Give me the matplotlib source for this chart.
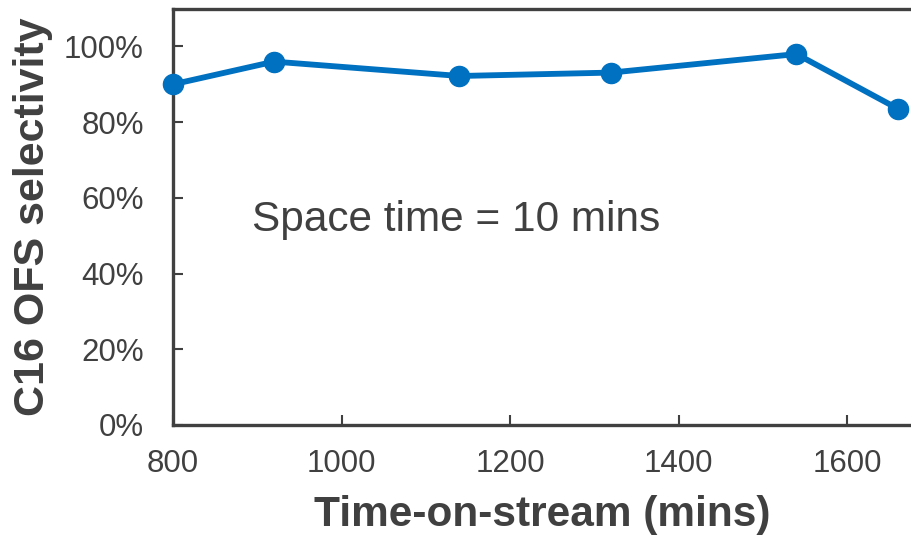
import matplotlib
matplotlib.use("Agg")
import matplotlib.pyplot as plt
from matplotlib.ticker import PercentFormatter

# data
time_min = [800, 920, 1140, 1320, 1540, 1660]
selectivity = [0.900, 0.960, 0.922, 0.931, 0.980, 0.836]
x_ticks = [800, 1000, 1200, 1400, 1600]
y_ticks = [0.0, 0.2, 0.4, 0.6, 0.8, 1.0]

GREY = "#404040"
BLUE = "#0070C0"

plt.rcParams["font.family"] = ["Liberation Sans", "DejaVu Sans"]

fig = plt.figure(figsize=(9.11, 5.36), dpi=100)
ax = fig.add_axes([173 / 911, (536 - 425) / 536, (911 - 173) / 911, (425 - 9) / 536])

ax.plot(time_min, selectivity, "-o", color=BLUE, lw=4.2, ms=14.5, clip_on=False, zorder=3)

ax.set_xlim(800, 800 + (911 - 173) / 0.8425)
ax.set_ylim(0, 1.099)
ax.set_xticks(x_ticks)
ax.set_yticks(y_ticks)
ax.yaxis.set_major_formatter(PercentFormatter(1.0, decimals=0))

for side in ["left", "bottom", "top"]:
    ax.spines[side].set_color(GREY)
    ax.spines[side].set_linewidth(2.4)
ax.spines["right"].set_visible(False)
ax.tick_params(direction="in", length=7, width=1.5, color=GREY,
               labelcolor=GREY, labelsize=22.5)
ax.tick_params(axis="y", pad=21)
ax.tick_params(axis="x", pad=17)

ax.set_xlabel("Time-on-stream (mins)", fontsize=30.5, fontweight="bold", color=GREY, labelpad=12)
ax.set_ylabel("C16 OFS selectivity", fontsize=31, fontweight="bold", color=GREY, labelpad=8)

ax.text(894, 0.542, "Space time = 10 mins", fontsize=30.5, color=GREY, va="center")

fig.savefig("out.png", dpi=100)
